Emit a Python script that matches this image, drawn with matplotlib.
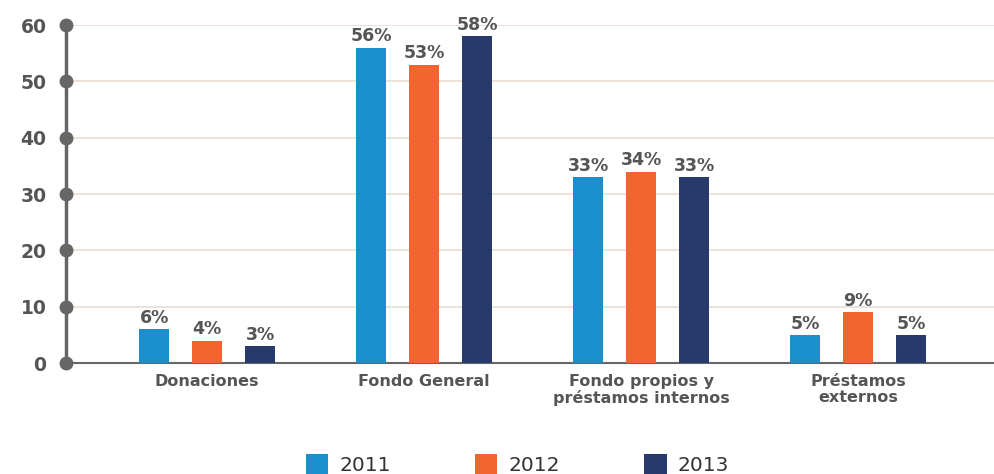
import numpy as np
import matplotlib.pyplot as plt

categories = ['Donaciones', 'Fondo General', 'Fondo propios y\npréstamos internos', 'Préstamos\nexternos']
years = ['2011', '2012', '2013']
v2011 = [6, 56, 33, 5]
v2012 = [4, 53, 34, 9]
v2013 = [3, 58, 33, 5]
yticks = [0, 10, 20, 30, 40, 50, 60]

colors = ['#1a8fcb', '#f26531', '#283a6b']
gray = '#555555'

fig = plt.figure(figsize=(9.95, 4.74), dpi=100)
ax = fig.add_axes([0.0663, 0.234, 0.9337, 0.713])

x = np.arange(len(categories))
off = 0.244
w = 0.138
for i, (vals, c, yr) in enumerate(zip([v2011, v2012, v2013], colors, years)):
    pos = x + (i - 1) * off
    ax.bar(pos, vals, width=w, color=c, label=yr, zorder=3)
    for p, v in zip(pos, vals):
        ax.text(p, v + 0.4, f'{v}%', ha='center', va='bottom', fontsize=12.5,
                fontweight='bold', color=gray)

ax.set_xlim(-0.65, 3.63)
ax.set_ylim(0, 60)
ax.set_yticks(yticks)
ax.set_yticklabels([str(t) for t in yticks], fontsize=13.5, fontweight='bold', color=gray)
ax.tick_params(axis='y', length=0, pad=14)
ax.set_xticks(x)
ax.set_xticklabels(categories, fontsize=11.5, fontweight='bold', color=gray, linespacing=1.1)
ax.tick_params(axis='x', length=0, pad=8)

for s in ['top', 'right']:
    ax.spines[s].set_visible(False)
ax.spines['left'].set_color('#666666')
ax.spines['left'].set_linewidth(2.5)
ax.spines['bottom'].set_color('#666666')
ax.spines['bottom'].set_linewidth(1.5)

ax.grid(axis='y', color='#ebdcd3', linewidth=1.2, zorder=0)
ax.plot([-0.65] * len(yticks), yticks, 'o', color='#666666', markersize=9,
        clip_on=False, zorder=5)

fig.legend(loc='lower center', ncol=3, bbox_to_anchor=(0.52, -0.04), frameon=False,
           fontsize=14.5, handlelength=1.1, handleheight=1.1, columnspacing=4.2,
           handletextpad=0.55, labelcolor='#333333')

fig.savefig('out.png', dpi=100)
